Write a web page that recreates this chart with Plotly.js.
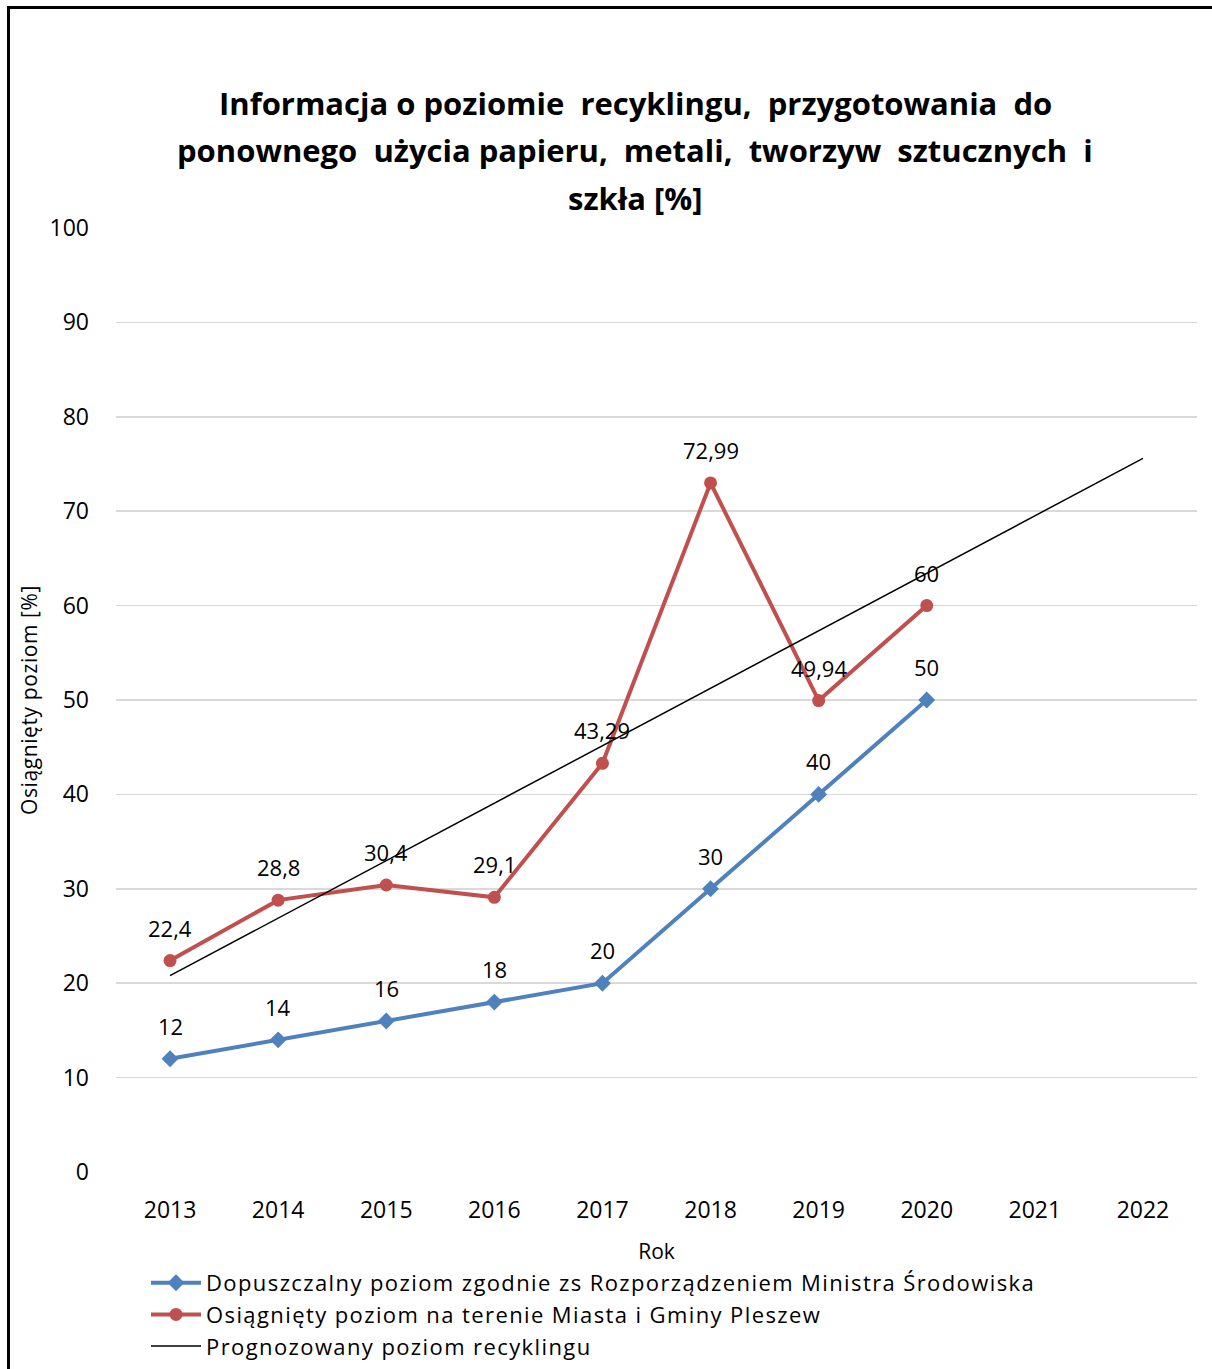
<!DOCTYPE html>
<html>
<head>
<meta charset="utf-8">
<script src="https://cdn.plot.ly/plotly-3.0.1.min.js"></script>
<style>
  body { margin: 0; padding: 0; background: #fff; }
  #wrap { position: relative; width: 1212px; height: 1369px; overflow: hidden; }
  #chart { position: absolute; left: 0; top: 0; width: 1212px; height: 1369px; }
  #frame { position: absolute; left: 7px; top: 6px; width: 1220px; height: 1380px;
           border-left: 3px solid #000; border-top: 3px solid #000; pointer-events: none; }
  text.legendtext { letter-spacing: 1.4px; }
  .ytitle { letter-spacing: 0.6px; }
</style>
</head>
<body>
<div id="wrap"><div id="chart"></div><div id="frame"></div></div>
<script>
const years = ['2013','2014','2015','2016','2017','2018','2019','2020','2021','2022'];
const allowedYears = ['2013','2014','2015','2016','2017','2018','2019','2020'];
const allowedValues = [12, 14, 16, 18, 20, 30, 40, 50];
const achievedYears = ['2013','2014','2015','2016','2017','2018','2019','2020'];
const achievedValues = [22.4, 28.8, 30.4, 29.1, 43.29, 72.99, 49.94, 60];
const trendYears = ['2013','2022'];
const trendValues = [20.8, 75.6];
const yTicks = [0,10,20,30,40,50,60,70,80,90,100];
const titleLines = [
  'Informacja o poziomie  recyklingu,  przygotowania  do',
  'ponownego  użycia papieru,  metali,  tworzyw  sztucznych  i',
  'szkła [%]'
];
const seriesNames = [
  'Dopuszczalny poziom zgodnie zs Rozporządzeniem Ministra Środowiska',
  'Osiągnięty poziom na terenie Miasta i Gminy Pleszew',
  'Prognozowany poziom recyklingu'
];

const FONT = '"Open Sans", Lato, sans-serif';
const fmt = v => String(v).replace('.', ',');

const traces = [
  {
    type: 'scatter', mode: 'lines+markers', name: seriesNames[0],
    x: allowedYears, y: allowedValues,
    line: { color: '#4f81bd', width: 4 },
    marker: { symbol: 'diamond', size: 13, color: '#4f81bd' },
    hoverinfo: 'x+y'
  },
  {
    type: 'scatter', mode: 'lines+markers', name: seriesNames[1],
    x: achievedYears, y: achievedValues,
    line: { color: '#c0504d', width: 4 },
    marker: { symbol: 'circle', size: 13, color: '#c0504d' },
    hoverinfo: 'x+y'
  },
  {
    type: 'scatter', mode: 'lines', name: seriesNames[2],
    x: trendYears, y: trendValues,
    line: { color: '#000000', width: 1.5 },
    hoverinfo: 'skip'
  }
];

const annotations = [];
allowedYears.forEach((yr, i) => annotations.push({
  x: years.indexOf(yr), y: allowedValues[i], xref: 'x', yref: 'y', text: fmt(allowedValues[i]),
  showarrow: false, yshift: 33, font: { family: FONT, size: 22, color: '#000' }
}));
achievedYears.forEach((yr, i) => annotations.push({
  x: years.indexOf(yr), y: achievedValues[i], xref: 'x', yref: 'y', text: fmt(achievedValues[i]),
  showarrow: false, yshift: 33, font: { family: FONT, size: 22, color: '#000' }
}));
const titleY = [103, 150, 198];
titleLines.forEach((t, i) => annotations.push({
  xref: 'paper', yref: 'paper', x: (635 - 116) / 1081, y: (1172 - titleY[i]) / 944,
  xanchor: 'center', yanchor: 'middle', showarrow: false,
  text: '<b>' + t + '</b>', font: { family: FONT, size: 31, color: '#000' }
}));

const layout = {
  width: 1212, height: 1369,
  margin: { l: 116, r: 15, t: 228, b: 197, pad: 0, autoexpand: false },
  paper_bgcolor: '#ffffff', plot_bgcolor: '#ffffff',
  showlegend: true,
  legend: {
    x: (146 - 116) / 1081, y: (1172 - 1262) / 944, xanchor: 'left', yanchor: 'top',
    font: { family: FONT, size: 22, color: '#000' },
    bgcolor: 'rgba(0,0,0,0)', tracegroupgap: 0, itemwidth: 50
  },
  xaxis: {
    type: 'category', categoryorder: 'array', categoryarray: years,
    range: [-0.5, 9.5], showgrid: false, zeroline: false, showline: false,
    ticks: '', tickfont: { family: FONT, size: 23, color: '#000' },
    ticklabelstandoff: 22,
    title: { text: 'Rok', font: { family: FONT, size: 21, color: '#000' }, standoff: 20 }
  },
  yaxis: {
    range: [0, 100], tickvals: yTicks, ticktext: yTicks.map(String),
    showgrid: true, gridcolor: '#d9d9d9', gridwidth: 1.5,
    zeroline: false, showline: false, ticks: '',
    tickfont: { family: FONT, size: 23, color: '#000' },
    ticklabelstandoff: 26,
    title: { text: 'Osiągnięty poziom [%]', font: { family: FONT, size: 21, color: '#000' }, standoff: 6 }
  },
  annotations: annotations
};

Plotly.newPlot('chart', traces, layout, { displayModeBar: false, staticPlot: true });
</script>
</body>
</html>
